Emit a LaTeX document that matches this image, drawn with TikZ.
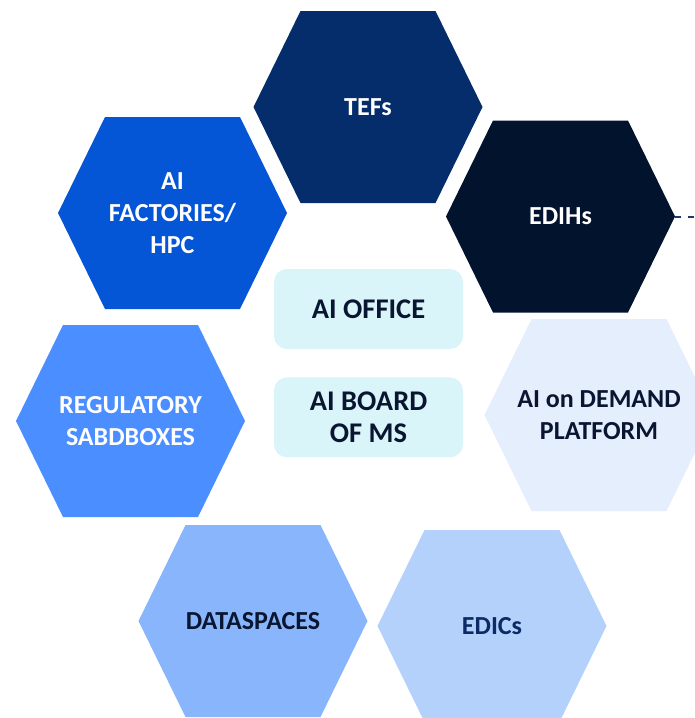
\documentclass[tikz,border=0pt]{standalone}
\usepackage{fontspec}
\setmainfont{Carlito}
\usetikzlibrary{positioning}

\definecolor{tefblue}{HTML}{052C6B}
\definecolor{edihnavy}{HTML}{02132E}
\definecolor{factoryblue}{HTML}{0556D6}
\definecolor{sandboxblue}{HTML}{4A8EFF}
\definecolor{dataspaceblue}{HTML}{88B5FB}
\definecolor{edicblue}{HTML}{B4D1FB}
\definecolor{demandblue}{HTML}{E4EEFD}
\definecolor{officecyan}{HTML}{D9F5FA}
\definecolor{inknavy}{HTML}{0A1631}
\definecolor{edicink}{HTML}{0B2A66}
\definecolor{dashnavy}{HTML}{1F3A6E}

\tikzset{
	hexlabel/.style={minimum width=229pt, minimum height=192pt, inner sep=0pt,
		align=center, font=\fontsize{26}{31.7}\selectfont\bfseries},
	officebox/.style={fill=officecyan, rounded corners=13pt, minimum width=189pt,
		minimum height=80pt, align=center, text=inknavy,
		font=\fontsize{28.5}{32.3}\selectfont\bfseries},
	connector/.style={dashnavy, line width=2pt, dash pattern=on 6pt off 7pt}
}

\begin{document}
\begin{tikzpicture}[x=1pt, y=-1pt]

	\useasboundingbox (0,0) rectangle (695,718);
	\clip (0,0) rectangle (695,718);

	% Draw hexagons.
	\foreach \name/\x/\y/\col/\ink/\txt in {
		tefs/368/107/tefblue/white/{TEFs},
		factories/172.5/213/factoryblue/white/{AI\\FACTORIES/\\HPC},
		edihs/560.5/216.5/edihnavy/white/{EDIHs},
		sandboxes/130.5/421/sandboxblue/white/{REGULATORY\\SABDBOXES},
		demand/599/415/demandblue/inknavy/{AI on DEMAND\\PLATFORM},
		dataspaces/253/621/dataspaceblue/inknavy/{DATASPACES},
		edics/492/626/edicblue/edicink/{EDICs}} {
		\fill[\col] (\x-114.5,\y) -- ++(47,-96) -- ++(135,0) -- ++(47,96)
			-- ++(-47,96) -- ++(-135,0) -- cycle;
		\node[hexlabel, text=\ink] (\name) at (\x,\y) {\txt};
	}

	% Central boxes.
	\node[officebox] (office) at (368.5,309) {AI OFFICE};
	\node[officebox, below=28pt of office] (board) {AI BOARD\\OF MS};

	% Dashed line leaving the picture.
	\coordinate (offpage) at (695,216.5);
	\draw[connector] (edihs.east) -- (offpage);

\end{tikzpicture}
\end{document}
